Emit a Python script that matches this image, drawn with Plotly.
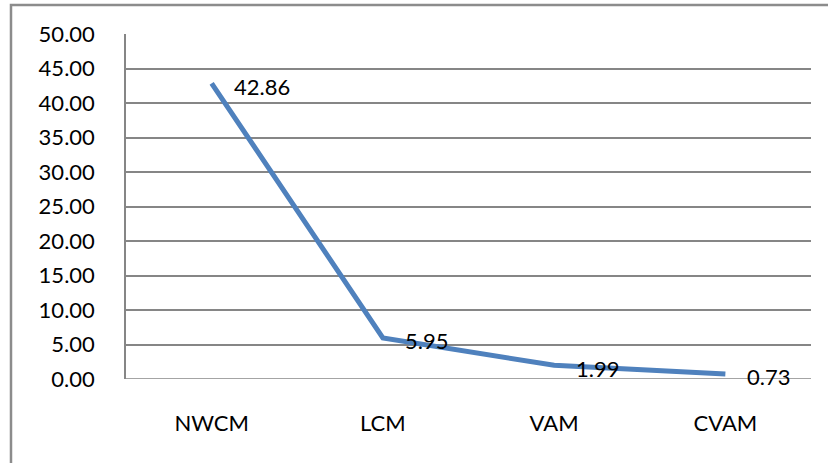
import plotly.graph_objects as go

categories = ["NWCM", "LCM", "VAM", "CVAM"]
values = [42.86, 5.95, 1.99, 0.73]
tick_vals = [0, 5, 10, 15, 20, 25, 30, 35, 40, 45, 50]
tick_text = [f"{v:.2f}" for v in tick_vals]

FONT = "Lato"
FSIZE = 22
GRID = "#868686"
LINE = "#4F81BD"

fig = go.Figure()
fig.add_trace(go.Scatter(
    x=categories, y=values, mode="lines",
    line=dict(color=LINE, width=5),
    hoverinfo="skip", showlegend=False,
))

for c, v in zip(categories, values):
    fig.add_annotation(
        x=c, y=v, text=f"{v:.2f}", showarrow=False,
        xanchor="left", yanchor="middle", xshift=20, yshift=-3,
        font=dict(family=FONT, size=FSIZE, color="#000000"),
    )

# outer chart frame (extends past the right and bottom edges)
fig.add_shape(type="rect", xref="paper", yref="paper",
              x0=-0.1679, x1=1.2, y0=-0.4, y1=1.084,
              line=dict(color="#8c8c8c", width=2.5), fillcolor="rgba(0,0,0,0)",
              layer="below")

fig.update_layout(
    width=828, height=463,
    margin=dict(l=126, r=17, t=34, b=84),
    paper_bgcolor="white", plot_bgcolor="white",
    font=dict(family=FONT, size=FSIZE, color="#000000"),
    xaxis=dict(
        type="category", showgrid=False, zeroline=False,
        showline=False, ticks="", ticklabelstandoff=29,
        tickfont=dict(family=FONT, size=FSIZE),
        range=[-0.5, 3.5],
    ),
    yaxis=dict(
        range=[0, 50], tickvals=tick_vals, ticktext=tick_text,
        showgrid=True, gridcolor=GRID, gridwidth=1.5,
        zeroline=False, showline=True, linecolor=GRID, linewidth=1.5,
        ticks="", ticklabelstandoff=25,
        tickfont=dict(family=FONT, size=FSIZE),
    ),
)

# baseline at zero
fig.add_shape(type="line", xref="paper", yref="y", x0=0, x1=1, y0=0, y1=0,
              line=dict(color=GRID, width=1.5), layer="below")

fig.write_html("out.html")
